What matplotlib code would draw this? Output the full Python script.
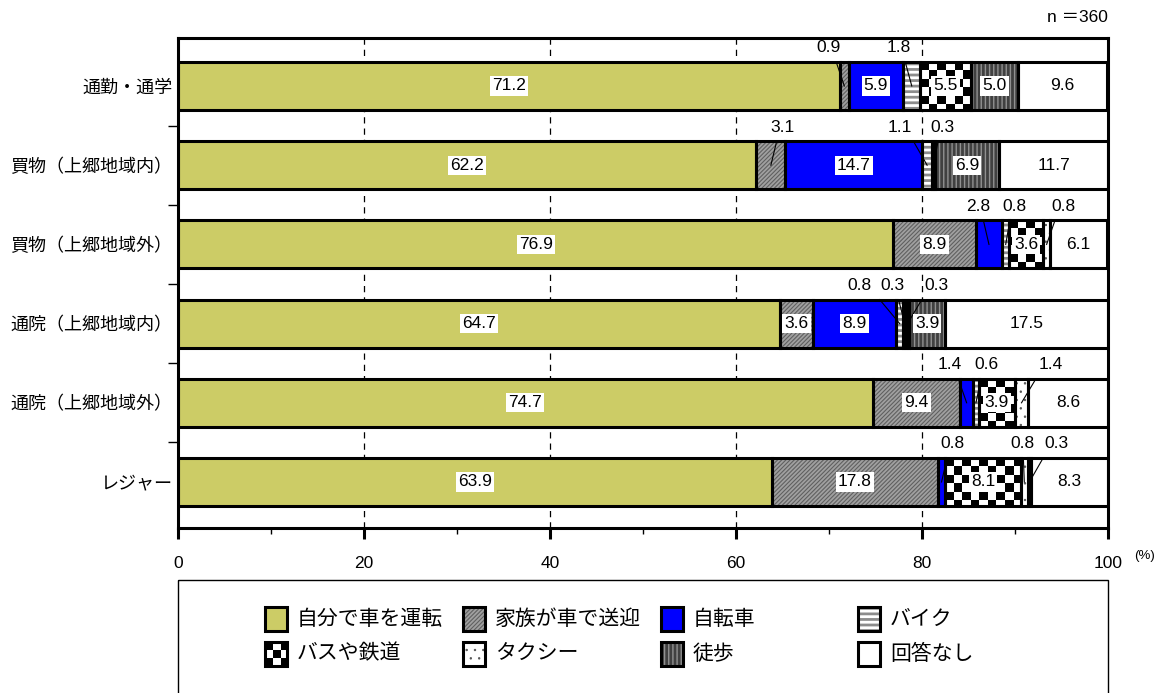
import numpy as np
import matplotlib
matplotlib.use('Agg')
import matplotlib.pyplot as plt
from matplotlib.patches import Rectangle

plt.rcParams['font.family'] = ['Liberation Sans', 'Noto Sans CJK JP']

# ---- data ----
categories = ['通勤・通学', '買物（上郷地域内）', '買物（上郷地域外）',
              '通院（上郷地域内）', '通院（上郷地域外）', 'レジャー']
modes = ['自分で車を運転', '家族が車で送迎', '自転車', 'バイク',
         'バスや鉄道', 'タクシー', '徒歩', '回答なし']
own_car = [71.2, 62.2, 76.9, 64.7, 74.7, 63.9]
family_car = [0.9, 3.1, 8.9, 3.6, 9.4, 17.8]
bicycle = [5.9, 14.7, 2.8, 8.9, 1.4, 0.8]
motorbike = [1.8, 1.1, 0.8, 0.8, 0.6, 0.0]
bus_rail = [5.5, 0.3, 3.6, 0.3, 3.9, 8.1]
taxi = [0.0, 0.0, 0.8, 0.3, 1.4, 0.8]
walk = [5.0, 6.9, 0.0, 3.9, 0.0, 0.3]
no_answer = [9.6, 11.7, 6.1, 17.5, 8.6, 8.3]
series = [own_car, family_car, bicycle, motorbike, bus_rail, taxi, walk, no_answer]

# where the small values are written above the bar (x in %)
out_label_x = [[69.9, 77.5], [65.0, 77.6, 82.2], [86.0, 89.9, 95.2],
               [73.3, 76.8, 81.5], [83.0, 86.9, 93.8], [83.3, 90.8, 94.5]]

# ---- styles ----
styles = [
    dict(color='#cccc66'),
    dict(color='#a0a0a0', hatch='////////', hcolor='#606060', hlw=0.8),
    dict(color='#0000ff'),
    dict(color='white', hatch='---', hcolor='#8c8c8c', hlw=2.0),
    dict(checker=True),
    dict(color='white', hatch='..', hcolor='#505050', hlw=0.5),
    dict(color='#404040', hatch='||||', hcolor='#909090', hlw=1.0),
    dict(color='white'),
]
EDGE = 2.2


def checker(ax, patch, x0, x1, y0, y1, cx, cy):
    nc = int(np.ceil((x1 - x0) / cx))
    nr = int(np.ceil(abs(y1 - y0) / cy))
    arr = (np.add.outer(np.arange(nr), np.arange(nc)) % 2).astype(float)
    im = ax.imshow(arr, cmap='gray', vmin=0, vmax=1, interpolation='nearest',
                   extent=(x0, x0 + nc * cx, y0 + nr * cy, y0), aspect='auto', zorder=2)
    im.set_clip_path(patch)


def fill_patch(ax, x, y, w, h, k, cx, cy):
    st = styles[k]
    if st.get('checker'):
        p = Rectangle((x, y), w, h, facecolor='white', linewidth=0, zorder=2)
        ax.add_patch(p)
        checker(ax, p, x, x + w, y, y + h, cx, cy)
    elif 'hatch' in st:
        with plt.rc_context({'hatch.linewidth': st['hlw']}):
            p = Rectangle((x, y), w, h, facecolor=st['color'], hatch=st['hatch'],
                          edgecolor=st['hcolor'], linewidth=0, zorder=2)
        ax.add_patch(p)
    else:
        ax.add_patch(Rectangle((x, y), w, h, facecolor=st['color'], linewidth=0, zorder=2))
    ax.add_patch(Rectangle((x, y), w, h, fill=False, edgecolor='black',
                           linewidth=EDGE, zorder=3))


fig = plt.figure(figsize=(11.58, 6.93), dpi=100)
ax = fig.add_axes([178 / 1158, 1 - 528 / 693, 930 / 1158, 490 / 693])
ax.set_zorder(2)

ypos = np.arange(len(categories))
bar_h = 0.606
left = np.zeros(len(categories))
cx, cy = 100 * 8.5 / 930, 8.5 / 79.2
for k, vals in enumerate(series):
    vals = np.array(vals)
    st = styles[k]
    m = vals > 0
    if st.get('checker'):
        bars = ax.barh(ypos[m], vals[m], bar_h, left=left[m], color='white', linewidth=0, zorder=2)
        for b in bars:
            checker(ax, b, b.get_x(), b.get_x() + b.get_width(),
                    b.get_y(), b.get_y() + b.get_height(), cx, cy)
    elif 'hatch' in st:
        with plt.rc_context({'hatch.linewidth': st['hlw']}):
            ax.barh(ypos[m], vals[m], bar_h, left=left[m], color=st['color'],
                    hatch=st['hatch'], edgecolor=st['hcolor'], linewidth=0, zorder=2)
    else:
        ax.barh(ypos[m], vals[m], bar_h, left=left[m], color=st['color'], linewidth=0, zorder=2)
    ax.barh(ypos[m], vals[m], bar_h, left=left[m], fill=False, edgecolor='black',
            linewidth=EDGE, zorder=3)
    left = left + vals

# value labels
for i in range(len(categories)):
    start = 0
    outs = iter(out_label_x[i])
    for vals in series:
        v = vals[i]
        c = start + v / 2
        if v >= 3.5:
            ax.text(c, i, f'{v:.1f}', ha='center', va='center', fontsize=12.5, zorder=6,
                    bbox=dict(facecolor='white', edgecolor='none', pad=1.5))
        elif v > 0:
            lx = next(outs)
            ax.text(lx, i - 0.48, f'{v:.1f}', ha='center', va='center', fontsize=12.5, zorder=6)
            ax.plot([(lx + c) / 2, c], [i - bar_h / 2, i], color='black', lw=0.8, zorder=5)
        start += v

ax.set_xlim(0, 100)
ax.set_ylim(5 + 46 / 79.2, -48 / 79.2)
ax.set_xticks(np.arange(0, 101, 20))
ax.set_xticks(np.arange(0, 101, 10), minor=True)
ax.set_yticks(ypos)
ax.set_yticklabels(categories, fontsize=13)
ax.set_yticks(np.arange(0.5, 5, 1), minor=True)
ax.tick_params(axis='x', which='major', length=8, width=EDGE, pad=12, labelsize=12.5)
ax.tick_params(axis='x', which='minor', length=4, width=1)
ax.tick_params(axis='y', which='major', length=0, pad=4)
ax.tick_params(axis='y', which='minor', length=7, width=1)
for s in ax.spines.values():
    s.set_linewidth(EDGE)
ax.grid(axis='x', which='major', color='black', linestyle=(0, (5, 4)), linewidth=0.9)
ax.set_axisbelow(True)

fig.text(1108 / 1158, 1 - 18 / 693, 'n ＝360', ha='right', va='center', fontsize=12.5)
fig.text(1134 / 1158, 1 - 556 / 693, '(%)', ha='left', va='center', fontsize=9.5)

# ---- legend drawn in pixel space ----
lax = fig.add_axes([0, 0, 1, 1])
lax.set_zorder(1)
lax.set_xlim(0, 1158)
lax.set_ylim(693, 0)
lax.axis('off')
lax.add_patch(Rectangle((178, 580), 930, 130, fill=False, edgecolor='black', linewidth=1))
col_x = [265, 463, 661, 858]
row_y = [619, 654]
for k, name in enumerate(modes):
    x = col_x[k % 4]
    y = row_y[k // 4]
    fill_patch(lax, x, y - 12, 22, 24, k, 8, 8)
    lax.text(x + 32, y, name, ha='left', va='center', fontsize=15)

fig.savefig('out.png', dpi=100)
